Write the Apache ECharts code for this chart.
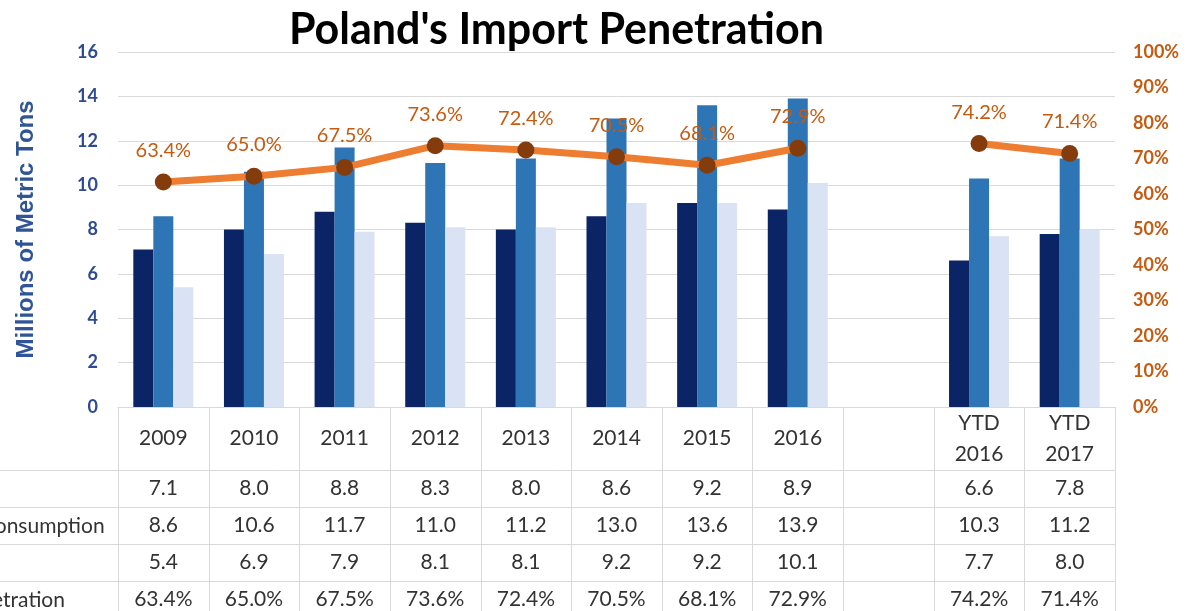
<!DOCTYPE html>
<html>
<head>
<meta charset="utf-8">
<script src="https://cdn.jsdelivr.net/npm/echarts@6/dist/echarts.min.js"></script>
<style>
  html, body { margin: 0; padding: 0; background: #fff; }
  #chart { width: 1190px; height: 611px; }
</style>
</head>
<body>
<div id="chart"></div>
<script>
const categories = ['2009', '2010', '2011', '2012', '2013', '2014', '2015', '2016', '', 'YTD 2016', 'YTD 2017']
const production = [7.1, 8.0, 8.8, 8.3, 8.0, 8.6, 9.2, 8.9, null, 6.6, 7.8]
const consumption = [8.6, 10.6, 11.7, 11.0, 11.2, 13.0, 13.6, 13.9, null, 10.3, 11.2]
const imports = [5.4, 6.9, 7.9, 8.1, 8.1, 9.2, 9.2, 10.1, null, 7.7, 8.0]
const penetration = [63.4, 65.0, 67.5, 73.6, 72.4, 70.5, 68.1, 72.9, null, 74.2, 71.4]
const rowNames = ['Production', 'Apparent Consumption', 'Imports', 'Import Penetration']

const FONT = 'Lato'
const GRID = { left: 118, right: 75, top: 52, bottom: 204 }
const HEADER_H = 63
const ROW_H = 37
const BORDER = '#d9d9d9'

const chart = echarts.init(document.getElementById('chart'))

function tableLabel(value, idx) {
  if (!value) return ''
  let s = value.indexOf(' ') > 0
    ? value.split(' ').map(p => '{h2|' + p + '}').join('\n')
    : '{h|' + value + '}'
  const cells = [
    production[idx].toFixed(1),
    consumption[idx].toFixed(1),
    imports[idx].toFixed(1),
    penetration[idx].toFixed(1) + '%'
  ]
  cells.forEach(c => { s += '\n{v|' + c + '}' })
  return s
}

const txt = { fontFamily: FONT, fontSize: 21, color: '#333' }

chart.setOption({
  animation: false,
  title: {
    text: "Poland's Import Penetration",
    left: 284,
    top: 4,
    textStyle: { fontFamily: FONT, fontSize: 43, fontWeight: 'bold', color: '#000' }
  },
  grid: GRID,
  xAxis: {
    type: 'category',
    data: categories,
    axisTick: { show: false },
    axisLine: { lineStyle: { color: BORDER } },
    axisLabel: {
      interval: 0,
      margin: 0,
      formatter: tableLabel,
      rich: {
        h: Object.assign({ lineHeight: HEADER_H }, txt),
        h2: Object.assign({ lineHeight: HEADER_H / 2 }, txt),
        v: Object.assign({ lineHeight: ROW_H }, txt)
      }
    }
  },
  yAxis: [
    {
      type: 'value',
      min: 0, max: 16, interval: 2,
      name: 'Millions of Metric Tons',
      nameLocation: 'middle',
      nameGap: 80,
      nameTextStyle: { fontFamily: 'Liberation Sans', fontSize: 24, fontWeight: 'bold', color: '#2f5597' },
      axisLabel: { fontFamily: FONT, fontSize: 18, fontWeight: 'bold', color: '#2f4b8f', margin: 20 },
      splitLine: { lineStyle: { color: BORDER } }
    },
    {
      type: 'value',
      min: 0, max: 100, interval: 10,
      axisLabel: { formatter: '{value}%', fontFamily: FONT, fontSize: 18, fontWeight: 'bold', color: '#c55a11', margin: 18 },
      splitLine: { show: false }
    }
  ],
  series: [
    { name: rowNames[0], type: 'bar', data: production, barWidth: 20, barGap: '0%', itemStyle: { color: '#0b2466' } },
    { name: rowNames[1], type: 'bar', data: consumption, barWidth: 20, barGap: '0%', itemStyle: { color: '#2e75b6' } },
    { name: rowNames[2], type: 'bar', data: imports, barWidth: 20, barGap: '0%', itemStyle: { color: '#dae3f3' } },
    {
      name: rowNames[3],
      type: 'line',
      yAxisIndex: 1,
      data: penetration,
      z: 5,
      symbol: 'circle',
      symbolSize: 17,
      lineStyle: { color: '#ed7d31', width: 7 },
      itemStyle: { color: '#843c0c' },
      label: {
        show: true,
        position: 'top',
        distance: 13,
        formatter: p => p.value.toFixed(1) + '%',
        fontFamily: FONT, fontSize: 20, color: '#c55a11'
      }
    }
  ]
})

// table borders and row captions
const c0 = chart.convertToPixel({ xAxisIndex: 0 }, 0)
const c1 = chart.convertToPixel({ xAxisIndex: 0 }, 1)
const band = c1 - c0
const tableTop = 611 - GRID.bottom
const tableRight = 1190 - GRID.right
const graphics = []
for (let i = 0; i <= categories.length; i++) {
  const x = Math.round(c0 - band / 2 + i * band) + 0.5
  graphics.push({ type: 'line', shape: { x1: x, y1: tableTop, x2: x, y2: 611 }, style: { stroke: BORDER, lineWidth: 1 } })
}
rowNames.forEach((name, r) => {
  const y = Math.round(tableTop + HEADER_H + r * ROW_H) + 0.5
  graphics.push({ type: 'line', shape: { x1: 0, y1: y, x2: tableRight, y2: y }, style: { stroke: BORDER, lineWidth: 1 } })
  graphics.push({
    type: 'text', x: -110, y: y + ROW_H / 2,
    style: { text: name, fontFamily: FONT, fontSize: 21, fill: '#333', verticalAlign: 'middle', align: 'left' }
  })
})
chart.setOption({ graphic: graphics })
</script>
</body>
</html>
